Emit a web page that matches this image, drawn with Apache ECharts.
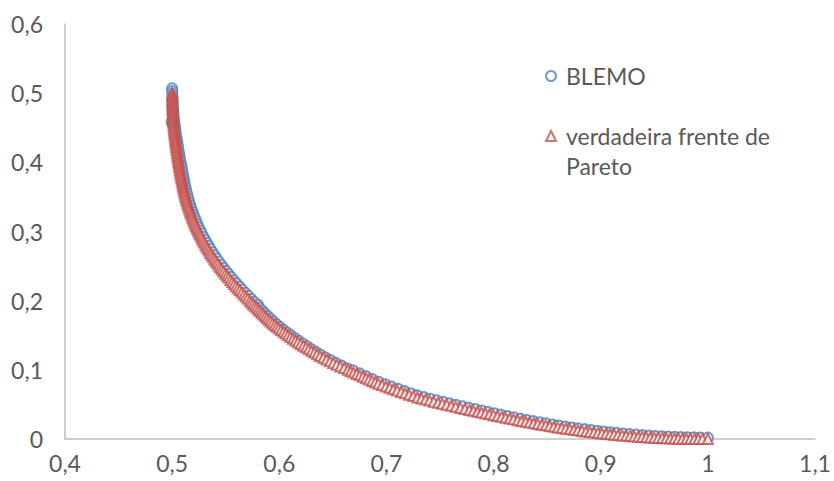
<!DOCTYPE html>
<html>
<head>
<meta charset="utf-8">
<script src="https://cdn.jsdelivr.net/npm/echarts@6/dist/echarts.min.js"></script>
<style>
  html, body { margin: 0; padding: 0; background: #ffffff; }
  #chart { width: 834px; height: 481px; }
</style>
</head>
<body>
<div id="chart"></div>
<script>
// Series names
const seriesBlemo = 'BLEMO';
const seriesPareto = 'verdadeira frente de Pareto';

// Axis tick values
const xTicks = [0.4, 0.5, 0.6, 0.7, 0.8, 0.9, 1.0, 1.1];
const yTicks = [0, 0.1, 0.2, 0.3, 0.4, 0.5, 0.6];

// BLEMO solutions (f1, f2)
const blemoX = [
  0.5000, 0.5001, 0.5002, 0.5003, 0.5004, 0.5005, 0.5006, 0.5008, 0.5010, 0.5013,
  0.5016, 0.4995, 0.5019, 0.5023, 0.5027, 0.5031, 0.5035, 0.5040, 0.5045, 0.5049,
  0.5054, 0.5058, 0.5063, 0.5068, 0.5073, 0.5078, 0.5084, 0.5090, 0.5095, 0.5101,
  0.5106, 0.5111, 0.5117, 0.5123, 0.5130, 0.5137, 0.5144, 0.5152, 0.5160, 0.5169,
  0.5179, 0.5189, 0.5199, 0.5211, 0.5223, 0.5235, 0.5248, 0.5262, 0.5276, 0.5291,
  0.5307, 0.5323, 0.5340, 0.5358, 0.5376, 0.5395, 0.5415, 0.5436, 0.5457, 0.5479,
  0.5502, 0.5526, 0.5550, 0.5575, 0.5601, 0.5627, 0.5654, 0.5682, 0.5710, 0.5738,
  0.5766, 0.5800, 0.5813, 0.5839, 0.5864, 0.5890, 0.5918, 0.5945, 0.5974, 0.6005,
  0.6037, 0.6072, 0.6107, 0.6144, 0.6181, 0.6220, 0.6260, 0.6300, 0.6342, 0.6384,
  0.6430, 0.6479, 0.6530, 0.6582, 0.6637, 0.6690, 0.6750, 0.6810, 0.6870, 0.6930,
  0.6990, 0.7050, 0.7110, 0.7170, 0.7230, 0.7290, 0.7350, 0.7410, 0.7470, 0.7530,
  0.7590, 0.7650, 0.7710, 0.7770, 0.7830, 0.7890, 0.7950, 0.8010, 0.8070, 0.8130,
  0.8190, 0.8250, 0.8310, 0.8370, 0.8430, 0.8490, 0.8550, 0.8610, 0.8670, 0.8730,
  0.8790, 0.8850, 0.8910, 0.8970, 0.9030, 0.9090, 0.9150, 0.9210, 0.9270, 0.9330,
  0.9390, 0.9450, 0.9510, 0.9570, 0.9630, 0.9690, 0.9750, 0.9810, 0.9870, 0.9930,
  1.0000
];
const blemoY = [
  0.5070, 0.5030, 0.4990, 0.4950, 0.4905, 0.4860, 0.4815, 0.4770, 0.4725, 0.4680,
  0.4635, 0.4580, 0.4590, 0.4545, 0.4500, 0.4455, 0.4410, 0.4365, 0.4320, 0.4275,
  0.4230, 0.4185, 0.4140, 0.4095, 0.4050, 0.4005, 0.3960, 0.3915, 0.3870, 0.3825,
  0.3780, 0.3735, 0.3690, 0.3645, 0.3600, 0.3555, 0.3510, 0.3465, 0.3420, 0.3375,
  0.3330, 0.3285, 0.3240, 0.3195, 0.3150, 0.3105, 0.3060, 0.3015, 0.2970, 0.2925,
  0.2880, 0.2835, 0.2790, 0.2745, 0.2700, 0.2655, 0.2610, 0.2565, 0.2520, 0.2475,
  0.2430, 0.2385, 0.2340, 0.2295, 0.2250, 0.2205, 0.2160, 0.2115, 0.2070, 0.2025,
  0.1980, 0.1940, 0.1900, 0.1860, 0.1820, 0.1780, 0.1740, 0.1700, 0.1660, 0.1620,
  0.1580, 0.1540, 0.1500, 0.1460, 0.1420, 0.1380, 0.1340, 0.1300, 0.1260, 0.1220,
  0.1180, 0.1140, 0.1100, 0.1060, 0.1020, 0.0992, 0.0948, 0.0908, 0.0866, 0.0826,
  0.0792, 0.0758, 0.0724, 0.0692, 0.0660, 0.0630, 0.0606, 0.0582, 0.0559, 0.0537,
  0.0515, 0.0494, 0.0473, 0.0452, 0.0432, 0.0412, 0.0392, 0.0372, 0.0352, 0.0332,
  0.0313, 0.0295, 0.0277, 0.0260, 0.0242, 0.0226, 0.0210, 0.0196, 0.0181, 0.0167,
  0.0154, 0.0142, 0.0130, 0.0119, 0.0108, 0.0098, 0.0089, 0.0080, 0.0071, 0.0063,
  0.0056, 0.0050, 0.0044, 0.0039, 0.0035, 0.0031, 0.0028, 0.0025, 0.0023, 0.0021,
  0.0020
];

// True Pareto front (f1, f2)
const paretoX = [
  0.5000, 0.5000, 0.5001, 0.5001, 0.5002, 0.5002, 0.5003, 0.5003, 0.5004, 0.5005,
  0.5006, 0.5007, 0.5008, 0.5009, 0.5011, 0.5013, 0.5015, 0.5017, 0.5019, 0.5021,
  0.5024, 0.5026, 0.5029, 0.5031, 0.5034, 0.5036, 0.5039, 0.5041, 0.5044, 0.5047,
  0.5050, 0.5053, 0.5056, 0.5059, 0.5062, 0.5065, 0.5069, 0.5072, 0.5076, 0.5079,
  0.5083, 0.5087, 0.5091, 0.5095, 0.5099, 0.5103, 0.5107, 0.5111, 0.5116, 0.5121,
  0.5126, 0.5131, 0.5137, 0.5143, 0.5149, 0.5155, 0.5162, 0.5169, 0.5176, 0.5183,
  0.5190, 0.5198, 0.5206, 0.5214, 0.5223, 0.5231, 0.5240, 0.5249, 0.5259, 0.5269,
  0.5279, 0.5289, 0.5300, 0.5311, 0.5322, 0.5333, 0.5345, 0.5357, 0.5369, 0.5382,
  0.5395, 0.5408, 0.5422, 0.5436, 0.5450, 0.5465, 0.5480, 0.5496, 0.5512, 0.5528,
  0.5545, 0.5561, 0.5578, 0.5595, 0.5613, 0.5631, 0.5650, 0.5669, 0.5688, 0.5706,
  0.5725, 0.5740, 0.5756, 0.5772, 0.5788, 0.5804, 0.5820, 0.5836, 0.5852, 0.5869,
  0.5886, 0.5903, 0.5920, 0.5938, 0.5957, 0.5976, 0.5995, 0.6016, 0.6038, 0.6060,
  0.6082, 0.6105, 0.6128, 0.6151, 0.6175, 0.6200, 0.6225, 0.6250, 0.6275, 0.6301,
  0.6327, 0.6353, 0.6380, 0.6411, 0.6442, 0.6473, 0.6505, 0.6537, 0.6570, 0.6605,
  0.6640, 0.6667, 0.6695, 0.6723, 0.6752, 0.6781, 0.6810, 0.6838, 0.6867, 0.6896,
  0.6925, 0.6960, 0.6995, 0.7030, 0.7065, 0.7101, 0.7138, 0.7175, 0.7212, 0.7251,
  0.7290, 0.7327, 0.7365, 0.7403, 0.7442, 0.7482, 0.7522, 0.7563, 0.7605, 0.7647,
  0.7690, 0.7732, 0.7775, 0.7812, 0.7850, 0.7887, 0.7925, 0.7962, 0.8000, 0.8037,
  0.8075, 0.8112, 0.8150, 0.8187, 0.8225, 0.8262, 0.8300, 0.8337, 0.8375, 0.8412,
  0.8450, 0.8487, 0.8525, 0.8562, 0.8600, 0.8637, 0.8675, 0.8712, 0.8750, 0.8787,
  0.8825, 0.8862, 0.8900, 0.8937, 0.8975, 0.9012, 0.9050, 0.9087, 0.9125, 0.9162,
  0.9200, 0.9237, 0.9275, 0.9312, 0.9350, 0.9387, 0.9425, 0.9462, 0.9500, 0.9537,
  0.9575, 0.9612, 0.9650, 0.9687, 0.9725, 0.9762, 0.9800, 0.9837, 0.9875, 0.9912,
  0.9950, 1.0000
];
const paretoY = [
  0.5000, 0.4970, 0.4940, 0.4910, 0.4880, 0.4850, 0.4820, 0.4790, 0.4760, 0.4730,
  0.4700, 0.4670, 0.4640, 0.4610, 0.4580, 0.4550, 0.4520, 0.4490, 0.4460, 0.4430,
  0.4400, 0.4370, 0.4340, 0.4310, 0.4280, 0.4250, 0.4220, 0.4190, 0.4160, 0.4130,
  0.4100, 0.4070, 0.4040, 0.4010, 0.3980, 0.3950, 0.3920, 0.3890, 0.3860, 0.3830,
  0.3800, 0.3770, 0.3740, 0.3710, 0.3680, 0.3650, 0.3620, 0.3590, 0.3560, 0.3530,
  0.3500, 0.3470, 0.3440, 0.3410, 0.3380, 0.3350, 0.3320, 0.3290, 0.3260, 0.3230,
  0.3200, 0.3170, 0.3140, 0.3110, 0.3080, 0.3050, 0.3020, 0.2990, 0.2960, 0.2930,
  0.2900, 0.2870, 0.2840, 0.2810, 0.2780, 0.2750, 0.2720, 0.2690, 0.2660, 0.2630,
  0.2600, 0.2570, 0.2540, 0.2510, 0.2480, 0.2450, 0.2420, 0.2390, 0.2360, 0.2330,
  0.2300, 0.2270, 0.2240, 0.2210, 0.2180, 0.2150, 0.2120, 0.2090, 0.2060, 0.2030,
  0.2000, 0.1975, 0.1950, 0.1925, 0.1900, 0.1875, 0.1850, 0.1825, 0.1800, 0.1775,
  0.1750, 0.1725, 0.1700, 0.1675, 0.1650, 0.1625, 0.1600, 0.1575, 0.1550, 0.1525,
  0.1500, 0.1475, 0.1450, 0.1425, 0.1400, 0.1375, 0.1350, 0.1325, 0.1300, 0.1275,
  0.1250, 0.1225, 0.1200, 0.1175, 0.1150, 0.1125, 0.1100, 0.1075, 0.1050, 0.1025,
  0.1000, 0.0980, 0.0960, 0.0940, 0.0920, 0.0900, 0.0880, 0.0860, 0.0840, 0.0820,
  0.0800, 0.0780, 0.0760, 0.0740, 0.0720, 0.0700, 0.0680, 0.0660, 0.0640, 0.0620,
  0.0600, 0.0585, 0.0570, 0.0555, 0.0540, 0.0525, 0.0510, 0.0495, 0.0480, 0.0465,
  0.0450, 0.0435, 0.0420, 0.0407, 0.0395, 0.0382, 0.0370, 0.0357, 0.0345, 0.0332,
  0.0320, 0.0308, 0.0296, 0.0284, 0.0272, 0.0261, 0.0250, 0.0239, 0.0228, 0.0217,
  0.0207, 0.0197, 0.0187, 0.0177, 0.0168, 0.0159, 0.0150, 0.0141, 0.0133, 0.0125,
  0.0117, 0.0109, 0.0102, 0.0095, 0.0088, 0.0081, 0.0075, 0.0069, 0.0063, 0.0057,
  0.0052, 0.0047, 0.0042, 0.0037, 0.0033, 0.0029, 0.0025, 0.0022, 0.0019, 0.0016,
  0.0013, 0.0011, 0.0009, 0.0007, 0.0005, 0.0004, 0.0003, 0.0002, 0.0001, 0.0001,
  0.0000, 0.0000
];

const zip = (xs, ys) => xs.map((x, i) => [x, ys[i]]);

const FONT = 'Lato, "Open Sans", sans-serif';
const LABEL_COLOR = '#595959';
const AXIS_COLOR = '#bfbfbf';
const FONT_SIZE = 23;

// Decimal comma tick labels: 0,4 … 1 … 1,1
const fmt = v => String(Math.round(v * 10) / 10).replace('.', ',');

const chart = echarts.init(document.getElementById('chart'), null, { renderer: 'svg' });

chart.setOption({
  animation: false,
  backgroundColor: '#ffffff',
  grid: { left: 65, right: 19, top: 24, bottom: 42, containLabel: false },
  xAxis: {
    type: 'value',
    min: xTicks[0],
    max: xTicks[xTicks.length - 1],
    interval: 0.1,
    axisLine: { show: true, onZero: false, lineStyle: { color: AXIS_COLOR, width: 1.5 } },
    axisTick: { show: false },
    splitLine: { show: false },
    axisLabel: { formatter: fmt, color: LABEL_COLOR, fontSize: FONT_SIZE, fontFamily: FONT, margin: 12 }
  },
  yAxis: {
    type: 'value',
    min: yTicks[0],
    max: yTicks[yTicks.length - 1],
    interval: 0.1,
    axisLine: { show: true, onZero: false, lineStyle: { color: AXIS_COLOR, width: 1.5 } },
    axisTick: { show: false },
    splitLine: { show: false },
    axisLabel: { formatter: fmt, color: LABEL_COLOR, fontSize: FONT_SIZE, fontFamily: FONT, margin: 22 }
  },
  legend: {
    orient: 'vertical',
    left: 545,
    top: 61,
    padding: 0,
    itemWidth: 10,
    itemHeight: 10,
    itemGap: 0,
    textStyle: { fontFamily: FONT, fontSize: FONT_SIZE, color: LABEL_COLOR, lineHeight: 30, padding: [0, 0, 0, 5] },
    // leading blank line keeps the marker level with the first text line
    formatter: name => (name === seriesPareto ? '\nverdadeira frente de\nPareto' : name),
    data: [seriesBlemo, seriesPareto]
  },
  series: [
    {
      name: seriesBlemo,
      type: 'scatter',
      symbol: 'emptyCircle',
      symbolSize: 10,
      itemStyle: { color: '#4F81BD', borderWidth: 2 },
      data: zip(blemoX, blemoY)
    },
    {
      name: seriesPareto,
      type: 'scatter',
      symbol: 'emptyTriangle',
      symbolSize: 10,
      itemStyle: { color: '#C0504D', borderWidth: 2 },
      data: zip(paretoX, paretoY)
    }
  ]
});
</script>
</body>
</html>
